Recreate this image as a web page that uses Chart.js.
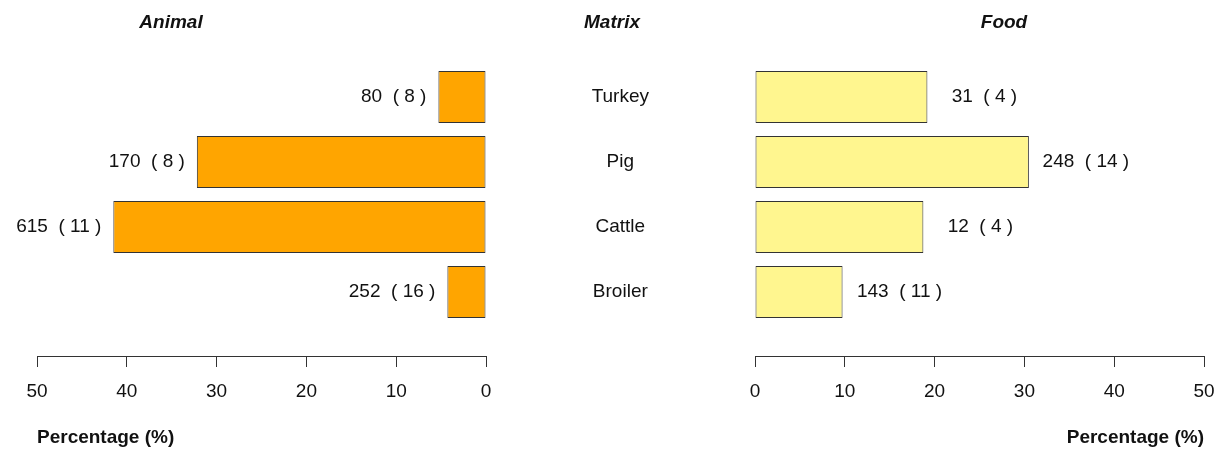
<!DOCTYPE html>
<html>
<head>
<meta charset="utf-8">
<script src="https://cdn.jsdelivr.net/npm/chart.js@4.4.1/dist/chart.umd.min.js"></script>
<style>
  html, body { margin: 0; padding: 0; background: #fff; }
  #wrap { position: relative; width: 1223px; height: 450px; overflow: hidden; }
  canvas { position: absolute; top: 0; }
  #animalChart { left: 0; }
  #foodChart { left: 486px; }
  .head { position: absolute; top: 12px; font: italic bold 19px "Liberation Sans", Arial, sans-serif;
          line-height: 19px; color: #111; transform: translateX(-50%); white-space: nowrap; }
</style>
</head>
<body>
<div id="wrap">
  <canvas id="animalChart" width="500" height="450"></canvas>
  <canvas id="foodChart" width="737" height="450"></canvas>
  <div class="head" style="left:171px">Animal</div>
  <div class="head" style="left:612px">Matrix</div>
  <div class="head" style="left:1004px">Food</div>
</div>
<script>
const categories = ['Turkey', 'Pig', 'Cattle', 'Broiler'];
const animalPct = [5.3, 32.2, 41.5, 4.3];
const animalN = [80, 170, 615, 252];
const animalK = [8, 8, 11, 16];
const foodPct = [19.2, 30.5, 18.75, 9.75];
const foodN = [31, 248, 12, 143];
const foodK = [4, 14, 4, 11];
const xTicks = [0, 10, 20, 30, 40, 50];

Chart.defaults.font.family = '"Liberation Sans", Arial, sans-serif';
Chart.defaults.font.size = 19;
Chart.defaults.color = '#111';
Chart.defaults.animation = false;

// sign = -1 mirrors the left panel so the bars grow leftwards
function toPoints(vals, sign) {
  return vals.map((v, i) => ({ x: sign * v, y: i }));
}

function lbl(n, k) {
  return n + '  ( ' + k + ' )';
}

// count labels beside each bar
const barText = {
  id: 'barText',
  afterDatasetsDraw(chart, args, opts) {
    const ctx = chart.ctx;
    const meta = chart.getDatasetMeta(0);
    ctx.save();
    ctx.font = '19px "Liberation Sans", Arial, sans-serif';
    ctx.fillStyle = '#111';
    ctx.textBaseline = 'middle';
    meta.data.forEach((bar, i) => {
      const t = lbl(opts.n[i], opts.k[i]);
      if (opts.side === 'left') {
        ctx.textAlign = 'right';
        ctx.fillText(t, bar.x - 12, bar.y);
      } else {
        ctx.textAlign = 'center';
        ctx.fillText(t, bar.x + 57, bar.y);
      }
    });
    ctx.restore();
  }
};

function xAxis(sign, align) {
  return {
    type: 'linear',
    min: sign < 0 ? -50 : 0,
    max: sign < 0 ? 0 : 50,
    afterBuildTicks: s => { s.ticks = xTicks.map(v => ({ value: sign * v })); },
    grid: { display: true, drawOnChartArea: false, drawTicks: true, tickLength: 11, color: '#333' },
    border: { display: true, color: '#333', width: 1 },
    ticks: { padding: 13, color: '#111', callback: v => String(Math.abs(v)) },
    title: { display: true, text: 'Percentage (%)', align: align, font: { weight: 'bold', size: 19 },
             color: '#111', padding: { top: 0, bottom: 1 } },
    afterFit: s => { s.height = 94; s.paddingLeft = 0; s.paddingRight = 0; }
  };
}

function yAxis(show) {
  const ax = {
    type: 'linear',
    reverse: true,
    offset: false,
    bounds: 'data',
    min: -0.5,
    max: 3.985,
    display: show,
    afterBuildTicks: s => { s.ticks = categories.map((c, i) => ({ value: i })); },
    grid: { display: false, drawTicks: false, offset: false },
    border: { display: false },
    ticks: { crossAlign: 'center', padding: 106, color: '#111', callback: v => categories[v] }
  };
  if (show) {
    ax.afterFit = s => { s.width = 269; s.paddingTop = 0; s.paddingBottom = 0; };
  }
  return ax;
}

new Chart(document.getElementById('animalChart'), {
  type: 'bar',
  data: {
    datasets: [{
      data: toPoints(animalPct, -1),
      backgroundColor: '#FFA500',
      borderColor: '#333',
      borderWidth: 1,
      borderSkipped: false,
      categoryPercentage: 1,
      barPercentage: 0.8
    }]
  },
  options: {
    indexAxis: 'y',
    responsive: false,
    layout: { padding: { left: 37, right: 14, top: 64.5, bottom: 0 } },
    plugins: { legend: { display: false }, tooltip: { enabled: false },
               barText: { side: 'left', n: animalN, k: animalK } },
    scales: { x: xAxis(-1, 'start'), y: yAxis(false) }
  },
  plugins: [barText]
});

new Chart(document.getElementById('foodChart'), {
  type: 'bar',
  data: {
    datasets: [{
      data: toPoints(foodPct, 1),
      backgroundColor: '#FFF68F',
      borderColor: '#333',
      borderWidth: 1,
      borderSkipped: false,
      categoryPercentage: 1,
      barPercentage: 0.8
    }]
  },
  options: {
    indexAxis: 'y',
    responsive: false,
    layout: { padding: { left: 0, right: 19, top: 64.5, bottom: 0 } },
    plugins: { legend: { display: false }, tooltip: { enabled: false },
               barText: { side: 'right', n: foodN, k: foodK } },
    scales: { x: xAxis(1, 'end'), y: yAxis(true) }
  },
  plugins: [barText]
});
</script>
</body>
</html>
